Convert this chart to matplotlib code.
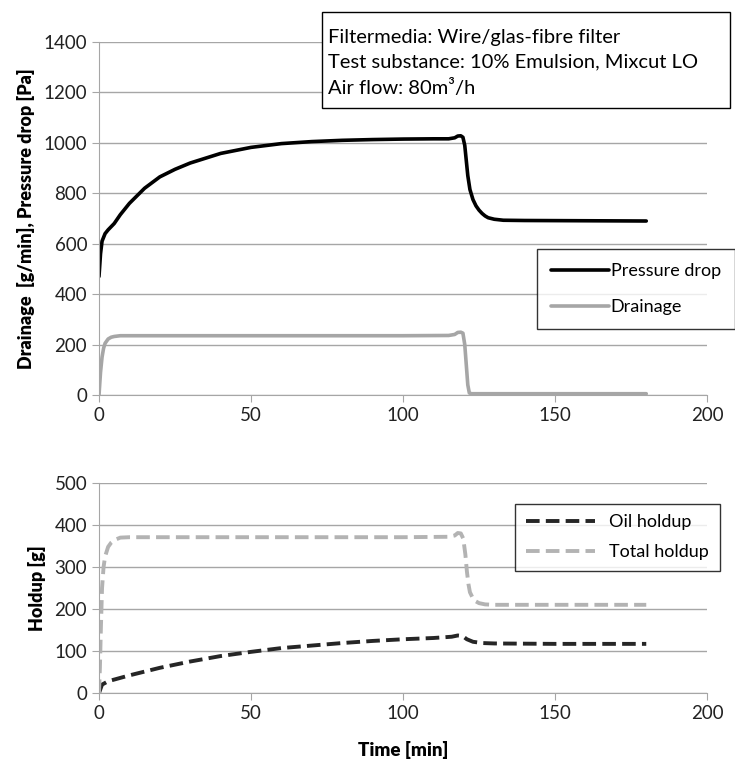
import numpy as np
import matplotlib.pyplot as plt
from matplotlib.patches import Rectangle

plt.rcParams['font.family'] = ['Lato', 'DejaVu Sans']

# values
t_pd = [0, 0.5, 1, 2, 3, 5, 7, 10, 15, 20, 25, 30, 40, 50, 60, 70, 80, 90, 100, 110, 115,
        117, 118, 119, 119.7, 120.3, 120.8, 121.3, 122, 123, 124, 125, 126, 127, 128, 130, 133, 140, 160, 180]
pressure = [470, 560, 610, 640, 655, 680, 715, 760, 820, 865, 895, 920, 958, 982, 997, 1005, 1010, 1013, 1015, 1016, 1016,
            1020, 1027, 1028, 1022, 990, 930, 870, 815, 775, 750, 733, 720, 710, 703, 697, 693, 692, 691, 690]

t_dr = [0, 0.5, 1, 1.5, 2, 3, 4, 5, 7, 10, 50, 100, 115, 117, 118, 119, 119.7, 120.3, 120.8, 121.3, 121.8, 122.5, 130, 180]
drainage = [0, 90, 150, 185, 205, 222, 229, 232, 235, 235, 235, 235, 236, 240, 248, 249, 245, 200, 120, 40, 8, 5, 5, 5]

t_oil = [0, 1, 3, 5, 10, 15, 20, 30, 40, 50, 60, 70, 80, 90, 100, 110, 116, 118, 119.5, 121, 123, 126, 130, 150, 180]
oil = [0, 20, 28, 32, 42, 51, 60, 75, 88, 98, 107, 113, 119, 124, 128, 131, 134, 137, 136, 128, 122, 119, 118, 117, 117]

t_tot = [0, 0.3, 0.6, 1, 1.5, 2, 3, 4, 5, 7, 10, 50, 100, 115, 117, 118, 119, 119.8, 120.5, 121, 121.5, 122, 123, 124, 125, 127, 130, 150, 180]
total = [0, 60, 150, 250, 300, 325, 348, 358, 364, 370, 371, 371, 371, 372, 375, 381, 380, 368, 330, 290, 260, 240, 225, 218, 214, 211, 210, 210, 210]

xticks = [0, 50, 100, 150, 200]

fig = plt.figure(figsize=(7.35, 7.65), dpi=100)
ax1 = fig.add_axes([0.1347, 0.4837, 0.8273, 0.4614])
ax2 = fig.add_axes([0.1347, 0.0941, 0.8273, 0.2745])

grid_c = '#a6a6a6'
for ax in (ax1, ax2):
    ax.set_xlim(0, 200)
    ax.set_xticks(xticks)
    ax.grid(axis='y', color=grid_c, lw=1)
    ax.set_axisbelow(True)
    for s in ('top', 'right'):
        ax.spines[s].set_visible(False)
    for s in ('left', 'bottom'):
        ax.spines[s].set_color(grid_c)
    ax.tick_params(axis='both', colors=grid_c, labelcolor='#222222', labelsize=13.5, length=5, direction='out')
    ax.margins(x=0)

ax1.plot(t_pd, pressure, color='black', lw=2.6, label='Pressure drop', solid_capstyle='round')
ax1.plot(t_dr, drainage, color='#a6a6a6', lw=2.6, label='Drainage', solid_capstyle='round')
ax1.set_ylim(0, 1400)
ax1.set_yticks(np.arange(0, 1401, 200))
ax1.set_ylabel('Drainage  [g/min], Pressure drop [Pa]', fontsize=13, fontweight='heavy', labelpad=6)
leg1 = ax1.legend(loc='upper left', bbox_to_anchor=(0.705, 0.44), frameon=True, fancybox=False,
                  edgecolor='black', fontsize=13, handlelength=3.2, handletextpad=0.1,
                  labelspacing=1.1, borderpad=0.8)
leg1.get_frame().set_linewidth(1)

# info text box
fig.patches.append(Rectangle((0.438, 0.8588), 0.555, 0.1255, transform=fig.transFigure,
                             fc='white', ec='black', lw=1, zorder=5))
fig.text(0.446, 0.962, 'Filtermedia: Wire/glas-fibre filter\nTest substance: 10% Emulsion, Mixcut LO\nAir flow: 80m³/h',
         va='top', ha='left', fontsize=14.5, linespacing=1.55, zorder=6)

ax2.plot(t_oil, oil, color='#262626', lw=2.8, ls=(0, (3.5, 1.6)), label='Oil holdup')
ax2.plot(t_tot, total, color='#b3b3b3', lw=2.8, ls=(0, (3.5, 1.6)), label='Total holdup')
ax2.set_ylim(0, 500)
ax2.set_yticks(np.arange(0, 501, 100))
ax2.set_ylabel('Holdup [g]', fontsize=13, fontweight='heavy', labelpad=6)
ax2.set_xlabel('Time [min]', fontsize=13.5, fontweight='heavy', labelpad=14)
leg2 = ax2.legend(loc='upper left', bbox_to_anchor=(0.67, 0.945), frameon=True, fancybox=False,
                  edgecolor='black', fontsize=13, handlelength=3.8, handletextpad=0.8,
                  labelspacing=0.75, borderpad=0.6)
leg2.get_frame().set_linewidth(1)

fig.savefig('out.png', dpi=100)
